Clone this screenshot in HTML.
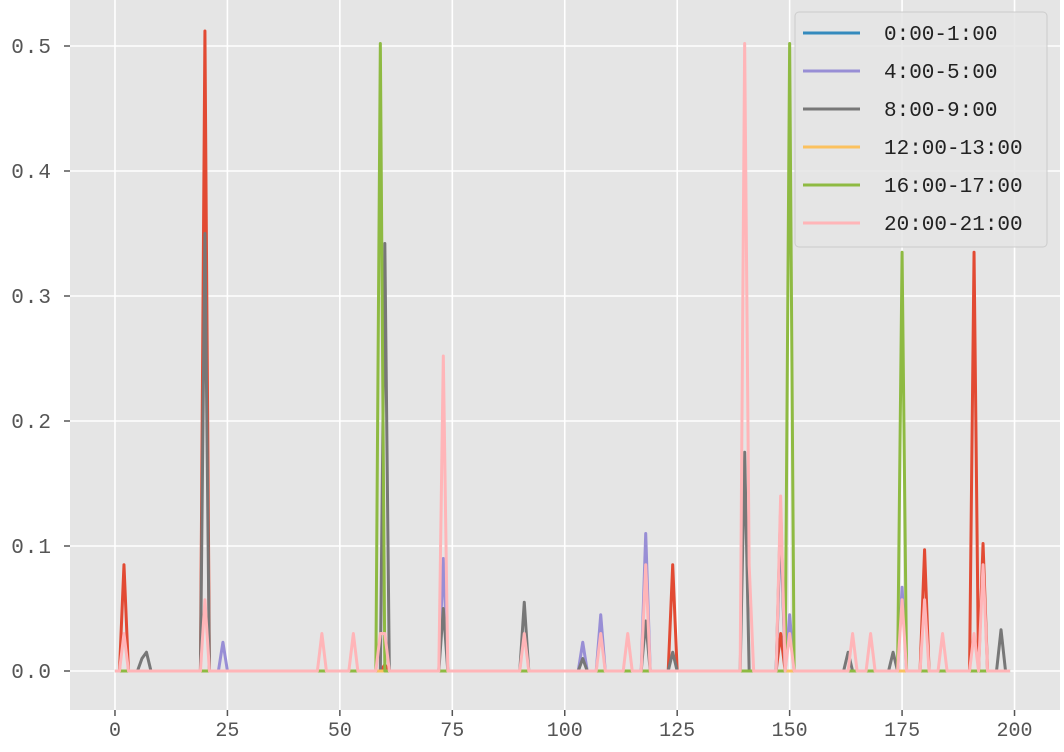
<!DOCTYPE html>
<html><head><meta charset="utf-8"><style>
body{margin:0;background:#fff;}
svg{display:block;font-family:"Liberation Mono","WenQuanYi Zen Hei",monospace;}
</style></head><body>
<svg id="chart" width="1064" height="752" xmlns="http://www.w3.org/2000/svg">
<rect x="70" y="0" width="990" height="710" fill="#e5e5e5"/>
<g id="grid"></g>
<g id="ticks"></g>
<g id="series"></g>
<g id="legend"></g>
</svg>
<script>
const xTicks=[0,25,50,75,100,125,150,175,200];
const yTicks=[0,0.1,0.2,0.3,0.4,0.5];
const yTickLabels=["0.0","0.1","0.2","0.3","0.4","0.5"];
const seriesNames=["extra","0:00-1:00","4:00-5:00","8:00-9:00","12:00-13:00","16:00-17:00","20:00-21:00"];
const seriesColors=["#E24A33","#348ABD","#988ED5","#777777","#FBC15E","#8EBA42","#FFB5B8"];
const nPoints=200;
const redIdx=[2,20,60,124,148,180,191,193];
const redVal=[0.085,0.512,0.005,0.085,0.03,0.097,0.335,0.102];
const blueIdx=[];const blueVal=[];
const purpleIdx=[24,73,104,108,118,148,150,175];
const purpleVal=[0.023,0.09,0.023,0.045,0.11,0.12,0.045,0.067];
const grayIdx=[6,7,20,60,73,91,104,118,124,140,148,163,173,197];
const grayVal=[0.01,0.015,0.35,0.342,0.05,0.055,0.01,0.04,0.015,0.175,0.13,0.015,0.015,0.033];
const yellowIdx=[];const yellowVal=[];
const greenIdx=[59,150,175];
const greenVal=[0.502,0.502,0.335];
const pinkIdx=[2,20,46,53,59,60,73,91,108,114,118,140,141,148,150,164,168,175,180,184,191,193];
const pinkVal=[0.03,0.057,0.03,0.03,0.03,0.03,0.252,0.03,0.03,0.03,0.085,0.502,0.085,0.14,0.03,0.03,0.03,0.057,0.057,0.03,0.03,0.085];
const spikes=[[redIdx,redVal],[blueIdx,blueVal],[purpleIdx,purpleVal],[grayIdx,grayVal],[yellowIdx,yellowVal],[greenIdx,greenVal],[pinkIdx,pinkVal]];
const legendOrder=[1,2,3,4,5,6];

const NS="http://www.w3.org/2000/svg";
const X0=70,X1=1059.5,Y0=710,Y1=0,xMin=-10,xMax=210,yMin=-0.0312,yMax=0.5368;
function sx(v){return X0+(v-xMin)/(xMax-xMin)*(X1-X0);}
function sy(v){return Y0-(v-yMin)/(yMax-yMin)*(Y0-Y1);}
function mk(t,a,p){const e=document.createElementNS(NS,t);for(const k in a)e.setAttribute(k,a[k]);p.appendChild(e);return e;}
const grid=document.getElementById('grid'),ticks=document.getElementById('ticks');
xTicks.forEach(t=>{
 const l=mk('line',{x1:sx(t),x2:sx(t),y1:0,y2:710,stroke:'#fff','stroke-width':1.6},grid);
 
 const tk=mk('line',{x1:sx(t),x2:sx(t),y1:710,y2:716,stroke:'#555','stroke-width':1.5},ticks);
 
 const tx=mk('text',{x:sx(t),y:736,'text-anchor':'middle','font-size':20,fill:'#555'},ticks);
 tx.textContent=String(t);
 
});
yTicks.forEach((t,i)=>{
 const l=mk('line',{x1:70,x2:1060,y1:sy(t),y2:sy(t),stroke:'#fff','stroke-width':1.6},grid);
 
 const tk=mk('line',{x1:64,x2:70,y1:sy(t),y2:sy(t),stroke:'#555','stroke-width':1.5},ticks);
 
 const tx=mk('text',{x:52,y:sy(t)+7,'text-anchor':'end','font-size':21,fill:'#555','letter-spacing':1},ticks);
 tx.textContent=yTickLabels[i];
 
});
const sg=document.getElementById('series');
spikes.forEach((s,k)=>{
 const vals=new Array(nPoints).fill(0);
 s[0].forEach((ix,j)=>{vals[ix]=s[1][j];});
 let d='';
 vals.forEach((v,i)=>{d+=(i?'L':'M')+sx(i).toFixed(2)+','+sy(v).toFixed(2);});
 const p=mk('path',{d:d,fill:'none',stroke:seriesColors[k],'stroke-width':3,'stroke-linejoin':'round'},sg);
 
 
});
const lg=document.getElementById('legend');
const box=mk('rect',{x:795,y:12,width:252,height:235,rx:4,fill:'#e5e5e5','fill-opacity':0.85,stroke:'#ccc','stroke-width':1},lg);

legendOrder.forEach((k,i)=>{
 const y=33+i*38;
 const g=mk('g',{},lg);
 
 mk('line',{x1:803,x2:860,y1:y,y2:y,stroke:seriesColors[k],'stroke-width':3},g);
 const t=mk('text',{x:884,y:y+7,'font-size':21,fill:'#222'},g);
 t.textContent=seriesNames[k];
});
</script>
</body></html>
